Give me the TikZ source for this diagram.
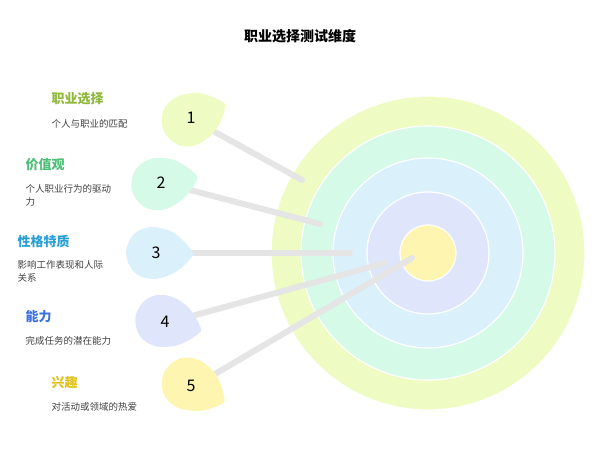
\documentclass[tikz,border=0pt]{standalone}
\usepackage{fontspec}
\setmainfont{Noto Sans CJK SC}
\begin{document}
\begin{tikzpicture}[x=1pt,y=-1pt,
  ring/.style={draw=white,line width=1.2pt},
  stick/.style={line width=6pt,draw=gray!20,line cap=round},
  ttl/.style={anchor=west,font=\fontsize{13}{15}\selectfont\bfseries},
  desc/.style={anchor=north west,font=\fontsize{9.5}{13}\selectfont,text=black!75,align=left,text width=110pt},
  num/.style={font=\fontsize{16}{17}\selectfont}]
\useasboundingbox (0,0) rectangle (600,474);
\definecolor{c1}{HTML}{EEFCC4}\definecolor{c2}{HTML}{D5FAE8}\definecolor{c3}{HTML}{DAF1FC}
\definecolor{c4}{HTML}{DFE6FB}\definecolor{c5}{HTML}{FDF5B0}
\node[font=\fontsize{14}{16}\selectfont\bfseries] (title) at (300,36) {职业选择测试维度};
\coordinate (c) at (428,253);
\fill[c1,ring] (c) circle (157);
\fill[c2,ring] (c) circle (127);
\fill[c3,ring] (c) circle (95);
\fill[c4,ring] (c) circle (61);
\fill[c5,ring] (c) circle (28);
\coordinate (e1) at (302,180);\coordinate (e2) at (320,224);\coordinate (e3) at (350,253);
\coordinate (e4) at (385,263);\coordinate (e5) at (412,258);
\coordinate (s1) at (215,132);\coordinate (s2) at (190,190);\coordinate (s3) at (185,253);
\coordinate (s4) at (192,316);\coordinate (s5) at (215,374);
\foreach \i in {1,...,5}{\draw[stick] (s\i) -- (e\i);}
\foreach \i/\x/\y/\r in {1/193/118/25,2/163/183/12,3/158/253/0,4/167/322/-12,5/193/386/-25}{
  \fill[c\i,rotate around={\r:(\x,\y)},shift={(\x,\y)}] plot[smooth cycle,tension=0.6] coordinates
   {(-6,-26) (-24,-19) (-32,0) (-24,19) (-6,26) (16,20) (33,5) (33,-3) (16,-20)};
  \node[num] (n\i) at (\x-2,\y) {\i};}
\node[ttl,text={rgb,255:red,141;green,184;blue,58}] (t1) at (48,99) {职业选择};
\node[desc] (d1) at (48,116) {个人与职业的匹配};
\node[ttl,text={rgb,255:red,76;green,190;blue,120}] (t2) at (22,165) {价值观};
\node[desc] (d2) at (22,181) {个人职业行为的驱动\\力};
\node[ttl,text={rgb,255:red,42;green,159;blue,214}] (t3) at (14,241) {性格特质};
\node[desc] (d3) at (14,257) {影响工作表现和人际\\关系};
\node[ttl,text={rgb,255:red,59;green,111;blue,224}] (t4) at (22,317) {能力};
\node[desc] (d4) at (22,333) {完成任务的潜在能力};
\node[ttl,text={rgb,255:red,224;green,194;blue,26}] (t5) at (48,383) {兴趣};
\node[desc] (d5) at (48,399) {对活动或领域的热爱};
\end{tikzpicture}
\end{document}
